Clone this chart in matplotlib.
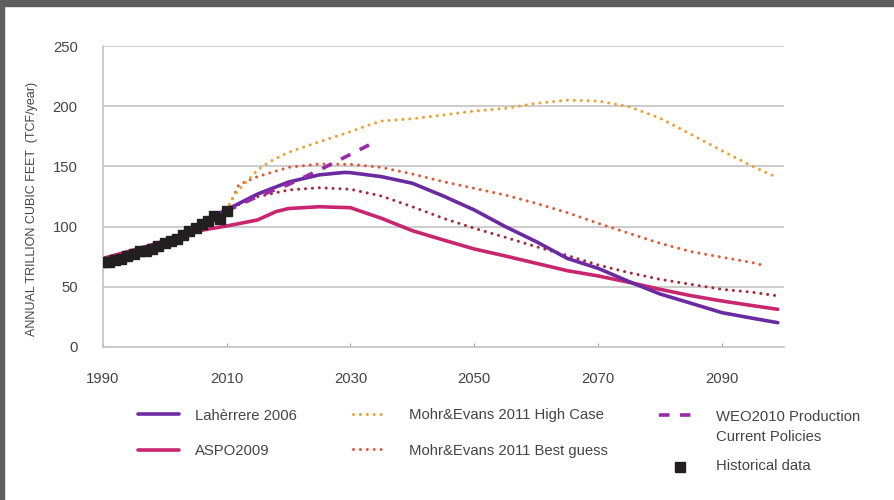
import matplotlib
matplotlib.use("Agg")
import matplotlib.pyplot as plt
from matplotlib.lines import Line2D
from matplotlib.patches import Rectangle

plt.rcParams['font.family'] = ['Liberation Sans', 'DejaVu Sans']

# ---- data (TCF/year) ----
hist_years = list(range(1990, 2011))
hist_values = [70.5, 71, 72, 73.5, 75.5, 77, 80, 80, 81.5, 83.5, 86, 88, 90, 93,
               96, 99, 102, 105, 108.5, 106, 113]

laherrere_years = [1990, 1995, 2000, 2005, 2008, 2010, 2015, 2020, 2025, 2029, 2030,
                   2035, 2040, 2045, 2050, 2055, 2060, 2065, 2070, 2075, 2080, 2085,
                   2090, 2095, 2099]
laherrere_values = [72, 78, 87, 99, 109, 114, 127, 137, 143, 145, 144.8,
                    141.5, 136, 125.4, 113.8, 100, 87.5, 73.6, 65.3, 54.3, 44, 36.3,
                    28.5, 23.8, 20.2]

aspo_years = [1990, 1996, 2001, 2006, 2010, 2015, 2018, 2020, 2025, 2030, 2035, 2040,
              2045, 2050, 2055, 2060, 2065, 2070, 2075, 2080, 2085, 2090, 2095, 2099]
aspo_values = [73.5, 82, 89.5, 97, 100.5, 105.5, 112.5, 115, 116.5, 115.7, 106.9, 96.6,
               88.9, 81.4, 75.6, 69.5, 63.4, 59, 53.7, 47.9, 42.6, 38.2, 34.3, 31.3]

high_years = [2010, 2011, 2012, 2013, 2015, 2017, 2020, 2025, 2030, 2033, 2035, 2040,
              2045, 2050, 2055, 2060, 2065, 2070, 2075, 2080, 2085, 2090, 2095, 2099]
high_values = [113, 124, 131, 136, 147, 154, 161.7, 170.5, 178.8, 184.4, 187.7, 189.6,
               192.7, 196, 198.2, 202.4, 205, 204.3, 199.6, 190, 176.6, 163, 149.8, 140.6]

best_years = [2010, 2011, 2012, 2015, 2020, 2025, 2030, 2035, 2040, 2045, 2050, 2055,
              2060, 2065, 2070, 2075, 2080, 2085, 2090, 2095, 2097]
best_values = [113, 124, 135, 141.5, 149.2, 152, 151.7, 149.2, 143.7, 137.3, 131.8, 126.2,
               119.3, 111.6, 102.7, 94.4, 86.1, 79.2, 74.5, 70, 67.3]

low_years = [2010, 2013, 2015, 2020, 2025, 2028, 2030, 2035, 2040, 2045, 2050, 2055,
             2060, 2065, 2070, 2075, 2080, 2085, 2090, 2095, 2099]
low_values = [113, 121, 124.8, 130.4, 132.3, 131.5, 131, 125.4, 116.5, 106.9, 98.6, 91.1,
              83.3, 76, 68.1, 61.7, 56.2, 52, 47.9, 45.4, 42.4]

weo_years = [2010, 2015, 2020, 2025, 2030, 2033.3]
weo_values = [113, 125, 135, 147, 160, 168.6]

x_ticks = [1990, 2010, 2030, 2050, 2070, 2090]
y_ticks = [0, 50, 100, 150, 200, 250]

# ---- styles ----
GRID = '#c4c4c4'
TEXT = '#454545'
dot = dict(linestyle=(0, (0.01, 2.25)), dash_capstyle='round', lw=2.2)
st_laherrere = dict(color='#6a2aa0', lw=2.6, solid_capstyle='round')
st_aspo = dict(color='#c8266e', lw=2.6, solid_capstyle='round')
st_high = dict(color='#e9a233', **dot)
st_best = dict(color='#e05a3a', **dot)
st_low = dict(color='#a82a3a', **dot)
st_weo = dict(color='#9a28aa', lw=2.6, linestyle=(0, (2.9, 2.9)), dash_capstyle='butt')
st_hist = dict(color='#231f20', marker='s', markersize=7.6, linestyle='none')

fig = plt.figure(figsize=(8.95, 5.0), dpi=100)
ax = fig.add_axes([102.7 / 895, 1 - 347 / 500, (784 - 102.7) / 895, (347 - 46) / 500])

ax.plot(low_years, low_values, **st_low)
ax.plot(best_years, best_values, **st_best)
ax.plot(high_years, high_values, **st_high)
ax.plot(aspo_years, aspo_values, **st_aspo)
ax.plot(laherrere_years, laherrere_values, **st_laherrere)
ax.plot(weo_years, weo_values, **st_weo)
ax.plot(hist_years, hist_values, **st_hist, zorder=5)

ax.set_xlim(1990, 2100)
ax.set_ylim(0, 250)
ax.set_xticks(x_ticks)
ax.set_yticks(y_ticks)
ax.yaxis.grid(True, color=GRID, lw=1.2)
ax.set_axisbelow(True)
for s in ('top', 'right'):
    ax.spines[s].set_visible(False)
for s in ('left', 'bottom'):
    ax.spines[s].set_color(GRID)
    ax.spines[s].set_linewidth(1.2)
ax.tick_params(axis='x', direction='in', length=3, color='#a0a0a0', pad=18,
               labelsize=10.7, labelcolor=TEXT)
ax.tick_params(axis='y', length=0, pad=18, labelsize=10.7, labelcolor=TEXT)

fig.text(32 / 895, 1 - 209 / 500, 'ANNUAL TRILLION CUBIC FEET  (TCF/year)',
         rotation=90, ha='center', va='center', fontsize=9.0, color=TEXT)

# ---- legend ----
def legend_item(x0, x1, y, style, label, tx, ty=None):
    yy = 1 - y / 500
    if style.get('marker'):
        fig.add_artist(Line2D([(x0 + x1) / 2 / 895], [yy], transform=fig.transFigure,
                              **{**style, 'markersize': 6.5}))
    else:
        fig.add_artist(Line2D([x0 / 895, x1 / 895], [yy, yy], transform=fig.transFigure,
                              **style))
    fig.text(tx / 895, 1 - (ty if ty else y) / 500, label, ha='left', va='center',
             fontsize=10.7, color=TEXT, linespacing=1.5)

legend_item(138, 179, 414, st_laherrere, 'Lahèrrere 2006', 195, 415.5)
legend_item(138, 179, 449.5, st_aspo, 'ASPO2009', 195, 451)
legend_item(353, 387, 414, st_high, 'Mohr&Evans 2011 High Case', 409.5, 415.5)
legend_item(353, 387, 448.5, st_best, 'Mohr&Evans 2011 Best guess', 409.5, 450.5)
legend_item(659, 693, 415, st_weo, 'WEO2010 Production\nCurrent Policies', 716, 427)
legend_item(680, 680, 466.5, st_hist, 'Historical data', 716, 466.5)

# frame strips along the top and left edges
fig.add_artist(Rectangle((0, 1 - 6 / 500), 1, 6 / 500, transform=fig.transFigure,
                         color='#5e5e5e', zorder=10))
fig.add_artist(Rectangle((0, 0), 4 / 895, 1, transform=fig.transFigure,
                         color='#5e5e5e', zorder=10))

fig.savefig('out.png', dpi=100)
